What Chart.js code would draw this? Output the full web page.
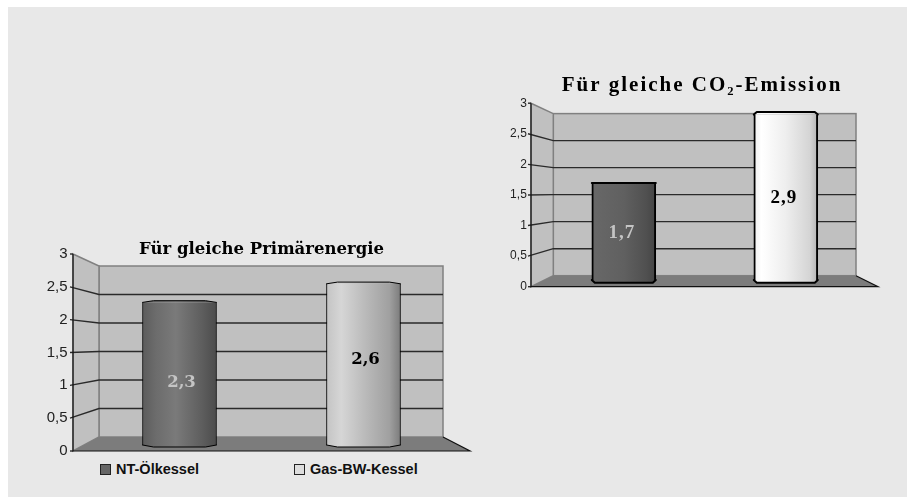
<!DOCTYPE html>
<html lang="de">
<head>
<meta charset="utf-8">
<title>Für gleiche Primärenergie / CO2-Emission</title>
<script src="https://cdn.jsdelivr.net/npm/chart.js@4"></script>
<style>
  html, body { margin: 0; padding: 0; background: #fff; }
  #panel { position: absolute; left: 8px; top: 7px; width: 899px; height: 490px; background: #e8e8e8; }
  canvas { position: absolute; }
  .legend-item { position: absolute; top: 461px; font: bold 14.5px "Liberation Sans", sans-serif; color: #111; white-space: nowrap; line-height: 16px; }
  .legend-item i { position: absolute; left: -16px; top: 3px; width: 9px; height: 9px; border: 1px solid #222; }
</style>
</head>
<body>
<div id="panel"></div>
<canvas id="primaer" width="463" height="230" style="left:30px;top:230px"></canvas>
<canvas id="co2" width="424" height="225" style="left:490px;top:70px"></canvas>
<div class="legend-item" id="leg0" style="left:116px"></div>
<div class="legend-item" id="leg1" style="left:310px"></div>
<script>
// Daten
const categories = ['NT-Ölkessel', 'Gas-BW-Kessel'];
const primaerValues = [2.3, 2.6];
const co2Values = [1.7, 2.9];
const primaerLabelAt = [1.0, 1.37];
const co2LabelAt = [0.82, 1.44];
const primaerTitle = 'Für gleiche Primärenergie';
const co2Title = 'Für gleiche CO₂-Emission';
const legendColors = ['#666666', '#dddddd'];

// Verlauf der "Zylinder", je Balken
const primaerStops = [
  [[0, '#5c5c5c'], [0.18, '#6c6c6c'], [0.45, '#7a7a7a'], [0.8, '#5e5e5e'], [1, '#4c4c4c']],
  [[0, '#c4c4c4'], [0.2, '#d6d6d6'], [0.5, '#bcbcbc'], [0.85, '#a0a0a0'], [1, '#7c7c7c']]
];
const co2Stops = [
  [[0, '#686868'], [0.5, '#606060'], [0.85, '#505050'], [1, '#444444']],
  [[0, '#f0f0f0'], [0.12, '#ffffff'], [0.5, '#eeeeee'], [0.88, '#d4d4d4'], [1, '#b4b4b4']]
];

// min/max einer versteckten Achse, damit der Nullpunkt perspektivisch verschoben liegt
function shiftedRange(height, zeroOffset, unit) {
  return { min: -zeroOffset / unit, max: (height - zeroOffset) / unit };
}

// Zeichnet Wände, Boden und Gitterlinien hinter die Balken, danach Kappen und Werte
const pseudo3d = {
  id: 'pseudo3d',
  afterLayout(chart) {
    // Titel: Sperrschrift und Versatz zur Mitte des Diagramms
    const t = chart.titleBlock;
    const geo = chart.options.plugins.pseudo3d;
    if (t && !t._spaced) {
      const draw = t.draw.bind(t);
      t.draw = () => {
        chart.ctx.save();
        chart.ctx.letterSpacing = geo.titleSpacing;
        chart.ctx.translate(geo.titleShift, 0);
        draw();
        chart.ctx.restore();
      };
      t._spaced = true;
    }
  },
  beforeDatasetsDraw(chart, args, o) {
    const { ctx, chartArea: a, scales } = chart;
    const front = scales.y, wall = scales.yWall;
    const fx = a.left + o.front, bl = a.left + o.backLeft, br = a.right + o.backRight, fr = a.right + o.frontRight;
    const top3 = front.getPixelForValue(3), f0 = front.getPixelForValue(0);
    const wTop = wall.getPixelForValue(3), w0 = wall.getPixelForValue(0);
    ctx.save();
    // Rückwand
    ctx.fillStyle = '#c0c0c0';
    ctx.strokeStyle = '#808080';
    ctx.lineWidth = 1.5;
    ctx.fillRect(bl, wTop, br - bl, w0 - wTop);
    ctx.strokeRect(bl, wTop, br - bl, w0 - wTop);
    // Seitenwand
    ctx.beginPath();
    ctx.moveTo(fx, top3);
    ctx.lineTo(bl, wTop);
    ctx.lineTo(bl, w0);
    ctx.lineTo(fx, f0);
    ctx.closePath();
    ctx.fill();
    ctx.stroke();
    // Boden
    ctx.fillStyle = '#7c7c7c';
    ctx.beginPath();
    ctx.moveTo(fx, f0);
    ctx.lineTo(bl, w0);
    ctx.lineTo(br, w0);
    ctx.lineTo(fr, f0);
    ctx.closePath();
    ctx.fill();
    // Gitterlinien über beide Wände
    ctx.strokeStyle = '#2a2a2a';
    ctx.lineWidth = 1.4;
    front.ticks.forEach(tick => {
      const yf = front.getPixelForValue(tick.value), yb = wall.getPixelForValue(tick.value);
      ctx.beginPath();
      ctx.moveTo(fx - 3, yf);
      if (tick.value > 0 && tick.value < 3) {
        ctx.lineTo(bl, yb);
        ctx.lineTo(br, yb);
      } else {
        ctx.lineTo(fx, yf);
      }
      ctx.stroke();
    });
    // Vorderkanten
    ctx.strokeStyle = '#111';
    ctx.lineWidth = 1.2;
    ctx.beginPath();
    ctx.moveTo(fx, top3);
    ctx.lineTo(fx, f0);
    ctx.lineTo(fr, f0);
    ctx.lineTo(br, w0);
    ctx.stroke();
    ctx.restore();
  },
  afterDatasetsDraw(chart, args, o) {
    const { ctx, scales } = chart;
    const bars = chart.getDatasetMeta(0).data;
    ctx.save();
    ctx.lineJoin = 'round';
    ctx.lineCap = 'round';
    bars.forEach((bar, i) => {
      const w = bar.width, l = bar.x - w / 2, r = bar.x + w / 2;
      ctx.fillStyle = chart.data.datasets[0].backgroundColor({ chart, dataIndex: i });
      ctx.strokeStyle = '#000';
      ctx.lineWidth = o.capLine;
      [[bar.y, -o.capTop[i]], [bar.base, o.capBottom]].forEach(([y, h]) => {
        ctx.beginPath();
        ctx.moveTo(l, y);
        ctx.lineTo(l + o.capInset, y + h);
        ctx.lineTo(r - o.capInset, y + h);
        ctx.lineTo(r, y);
        ctx.fill();
        ctx.stroke();
      });
      // Wert in der Säule
      ctx.font = o.labelFont;
      ctx.letterSpacing = o.titleSpacing === '0px' ? '0px' : '1px';
      ctx.textAlign = 'center';
      ctx.textBaseline = 'middle';
      ctx.fillStyle = o.labelColors[i];
      const value = chart.data.datasets[0].data[i];
      ctx.fillText(String(value).replace('.', ','), bar.x + o.labelDx, scales.yBar.getPixelForValue(o.labelAt[i]));
    });
    ctx.restore();
  }
};

function makeChart(id, cfg) {
  const el = document.getElementById(id);
  return new Chart(el.getContext('2d'), {
    type: 'bar',
    data: {
      labels: categories,
      datasets: [{
        data: cfg.values,
        yAxisID: 'yBar',
        barThickness: cfg.barWidth,
        borderColor: '#000',
        borderWidth: { left: cfg.capLine, right: cfg.capLine, top: 0, bottom: 0 },
        backgroundColor(c) {
          const area = c.chart.chartArea;
          if (!area) return '#888';
          const center = c.chart.scales.x.getPixelForValue(c.dataIndex);
          const g = c.chart.ctx.createLinearGradient(center - cfg.barWidth / 2, 0, center + cfg.barWidth / 2, 0);
          cfg.stops[c.dataIndex].forEach(s => g.addColorStop(s[0], s[1]));
          return g;
        }
      }]
    },
    options: {
      responsive: false,
      animation: false,
      layout: { padding: { left: 0, right: cfg.padRight, top: 0, bottom: cfg.padBottom } },
      plugins: {
        legend: { display: false },
        tooltip: { enabled: false },
        title: {
          display: true,
          text: cfg.title,
          color: '#000',
          font: cfg.titleFont,
          padding: cfg.titlePadding
        },
        pseudo3d: cfg.geo
      },
      scales: {
        x: { display: false, offset: true, grid: { display: false } },
        y: {
          min: 0,
          max: 3,
          afterFit(s) { s.width = cfg.axisWidth; },
          // tickLength statt ticks.padding: padding würde auch die Höhe der Fläche verkleinern
          grid: { display: false, drawTicks: true, tickLength: cfg.tickGap },
          border: { display: false },
          ticks: {
            stepSize: 0.5,
            color: '#222',
            padding: 0,
            font: { family: '"Liberation Sans", sans-serif', size: cfg.tickSize },
            callback: v => String(v).replace('.', ',')
          }
        },
        yBar: { display: false, ...shiftedRange(cfg.height, cfg.barZero, cfg.barUnit) },
        yWall: { display: false, ...shiftedRange(cfg.height, cfg.wallZero, cfg.wallUnit) }
      }
    },
    plugins: [pseudo3d]
  });
}

makeChart('primaer', {
  values: primaerValues,
  title: primaerTitle,
  titleFont: { family: '"DejaVu Serif", serif', size: 16.5, weight: 'bold' },
  titlePadding: { top: 10, bottom: -5.8 },
  stops: primaerStops,
  barWidth: 74,
  capLine: 1,
  padRight: 37.5,
  padBottom: 9,
  axisWidth: 57.5,
  tickGap: 20,
  tickSize: 15,
  height: 197,
  barZero: 6, barUnit: 62,
  wallZero: 14, wallUnit: 57,
  geo: {
    front: -14.5, backLeft: 11.5, backRight: -12.5, frontRight: 14.5,
    capInset: 11, capTop: [1.7, 1.7], capBottom: 2,
    capLine: 1,
    labelFont: 'bold 16.5px "DejaVu Serif", serif',
    labelColors: ['#c4c4c4', '#000'],
    labelAt: primaerLabelAt,
    labelDx: 2,
    titleSpacing: '0px',
    titleShift: 18.75
  }
});

makeChart('co2', {
  values: co2Values,
  title: co2Title,
  titleFont: { family: '"Liberation Serif", serif', size: 21, weight: 'bold' },
  titlePadding: { top: 3, bottom: 5 },
  stops: co2Stops,
  barWidth: 64,
  capLine: 2,
  padRight: 47.2,
  padBottom: 8.3,
  axisWidth: 52.8,
  tickGap: 16,
  tickSize: 12,
  height: 183.4,
  barZero: 6.7, barUnit: 57,
  wallZero: 11, wallUnit: 54,
  geo: {
    front: -11.8, backLeft: 10.5, backRight: -10.8, frontRight: 11.2,
    capInset: 3, capTop: [0, 2.7], capBottom: 2.7,
    capLine: 2,
    labelFont: 'bold 19px "Liberation Serif", serif',
    labelColors: ['#c4c4c4', '#000'],
    labelAt: co2LabelAt,
    labelDx: -2,
    titleSpacing: '2px',
    titleShift: 23.6
  }
});

// Legende als HTML, die Abstände der Einträge lassen sich in Chart.js nicht getrennt setzen
categories.forEach((name, i) => {
  const item = document.getElementById('leg' + i);
  const box = document.createElement('i');
  box.style.background = legendColors[i];
  item.appendChild(box);
  item.appendChild(document.createTextNode(name));
});
</script>
</body>
</html>
